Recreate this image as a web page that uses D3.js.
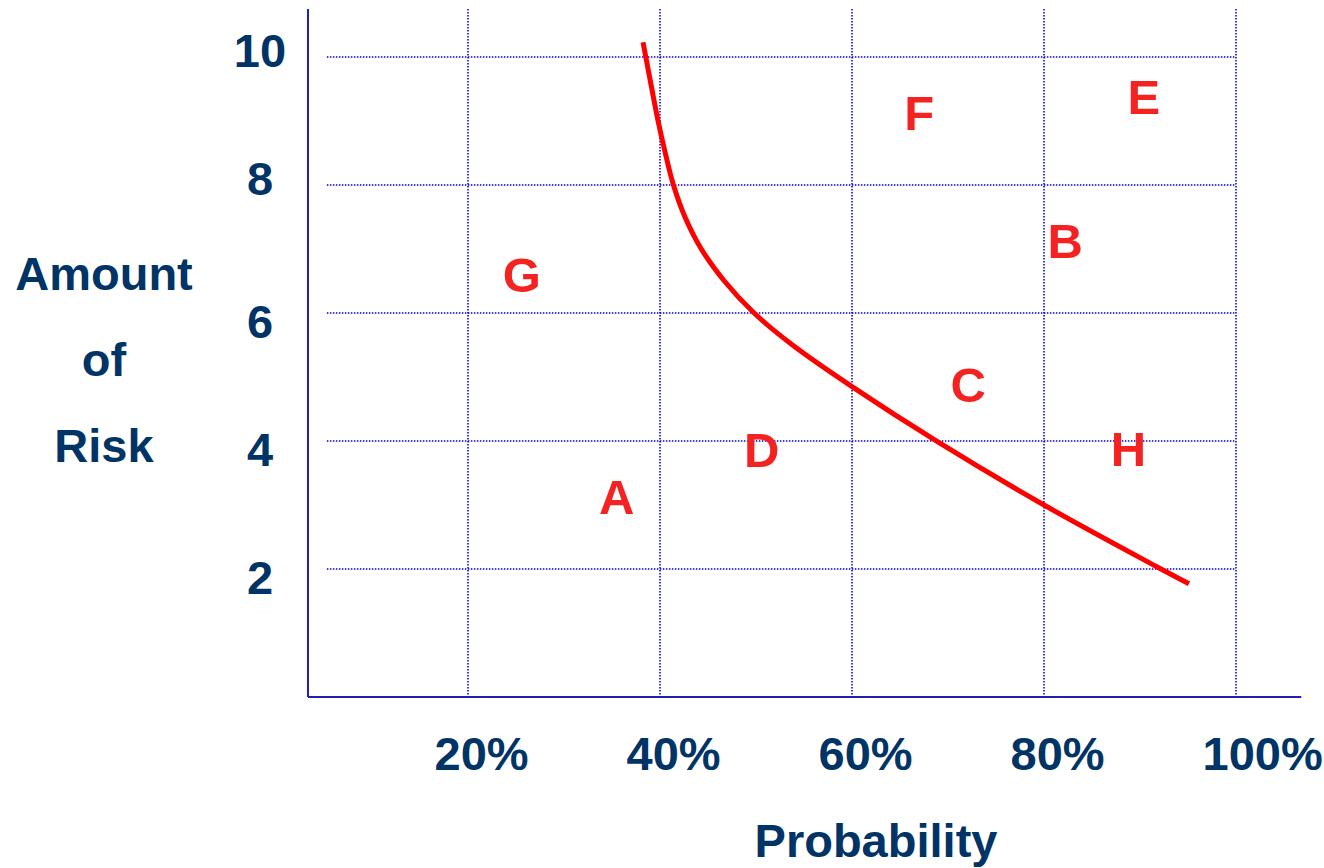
<!DOCTYPE html>
<html>
<head>
<meta charset="utf-8">
<script src="https://cdn.jsdelivr.net/npm/d3@7"></script>
<style>
  html, body { margin: 0; padding: 0; background: #ffffff; }
  svg { display: block; }
  text { font-family: "Liberation Sans", Arial, sans-serif; font-weight: bold; }
</style>
</head>
<body>
<svg id="chart" width="1324" height="868"></svg>
<script>
// ---- data ----
const xTicks = [20, 40, 60, 80, 100];
const xTickLabels = ["20%", "40%", "60%", "80%", "100%"];
const yTicks = [2, 4, 6, 8, 10];
const yTickLabels = ["2", "4", "6", "8", "10"];

const pointLabels = ["A", "B", "C", "D", "E", "F", "G", "H"];
const pointX = [35.5, 82.2, 72.1, 50.6, 90.4, 67.0, 25.6, 88.8];
const pointY = [3.13, 7.13, 4.88, 3.87, 9.38, 9.13, 6.60, 3.88];

const curveX = [38.23, 39.15, 39.8, 40.55, 41.4, 42.6, 44.3, 46.7, 49.8, 53.8, 60.0, 68.9, 80.0, 91.7, 95.1];
const curveY = [10.23, 9.5, 9.0, 8.5, 8.0, 7.5, 7.0, 6.5, 6.0, 5.5, 4.85, 3.99, 3.0, 2.04, 1.77];

const xTitle = "Probability";
const yTitleLines = ["Amount", "of", "Risk"];

// ---- layout ----
const svg = d3.select("#chart");
const x = d3.scaleLinear().domain([0, 100]).range([276, 1236]);
const y = d3.scaleLinear().domain([0, 10]).range([697, 57]);

const navy = "#003366";
const axisBlue = "#1f1fb4";
const gridBlue = "#0000c8";
const red = "#ff0000";
const letterRed = "#f52222";

// gridlines
const grid = svg.append("g");
grid.selectAll("line.v").data(xTicks).join("line")
  .attr("x1", d => x(d)).attr("x2", d => x(d))
  .attr("y1", y(10.75)).attr("y2", y(0))
  .attr("stroke", gridBlue).attr("stroke-width", 1.5)
  .attr("stroke-dasharray", "1.5,1.5");
grid.selectAll("line.h").data(yTicks).join("line")
  .attr("x1", x(5.3)).attr("x2", x(100))
  .attr("y1", d => y(d)).attr("y2", d => y(d))
  .attr("stroke", gridBlue).attr("stroke-width", 1.5)
  .attr("stroke-dasharray", "1.5,1.5");

// axis lines
svg.append("line")
  .attr("x1", x(3.33)).attr("x2", x(3.33))
  .attr("y1", y(10.75)).attr("y2", y(0))
  .attr("stroke", axisBlue).attr("stroke-width", 2);
svg.append("line")
  .attr("x1", x(3.33)).attr("x2", x(106.8))
  .attr("y1", y(0)).attr("y2", y(0))
  .attr("stroke", axisBlue).attr("stroke-width", 2);

// y tick labels
svg.append("g").selectAll("text").data(yTicks).join("text")
  .attr("x", 260)
  .attr("y", d => y(d) + (d >= 8 ? -7.5 : 8) + 17)
  .attr("text-anchor", "middle")
  .attr("font-size", 47)
  .attr("fill", navy)
  .text((d, i) => yTickLabels[i]);

// x tick labels
svg.append("g").selectAll("text").data(xTicks).join("text")
  .attr("x", d => x(d) - 33.5)
  .attr("y", 770)
  .attr("text-anchor", "start")
  .attr("font-size", 47)
  .attr("fill", navy)
  .text((d, i) => xTickLabels[i]);

// axis titles
svg.append("text")
  .attr("x", 876).attr("y", 857)
  .attr("text-anchor", "middle")
  .attr("font-size", 47)
  .attr("fill", navy)
  .text(xTitle);

const yTitleBaselines = [290, 376, 462];
svg.append("g").selectAll("text").data(yTitleLines).join("text")
  .attr("x", 104)
  .attr("y", (d, i) => yTitleBaselines[i])
  .attr("text-anchor", "middle")
  .attr("font-size", 47)
  .attr("fill", navy)
  .text(d => d);

// curve
const curvePts = curveX.map((v, i) => [v, curveY[i]]);
svg.append("path")
  .datum(curvePts)
  .attr("fill", "none")
  .attr("stroke", red)
  .attr("stroke-width", 5)
  .attr("d", d3.line().x(d => x(d[0])).y(d => y(d[1])).curve(d3.curveCatmullRom.alpha(0.5)));

// letter labels
svg.append("g").selectAll("text").data(pointLabels).join("text")
  .attr("x", (d, i) => x(pointX[i]))
  .attr("y", (d, i) => y(pointY[i]) + 17.5)
  .attr("text-anchor", "middle")
  .attr("font-size", 49)
  .attr("fill", letterRed)
  .text(d => d);
</script>
</body>
</html>
